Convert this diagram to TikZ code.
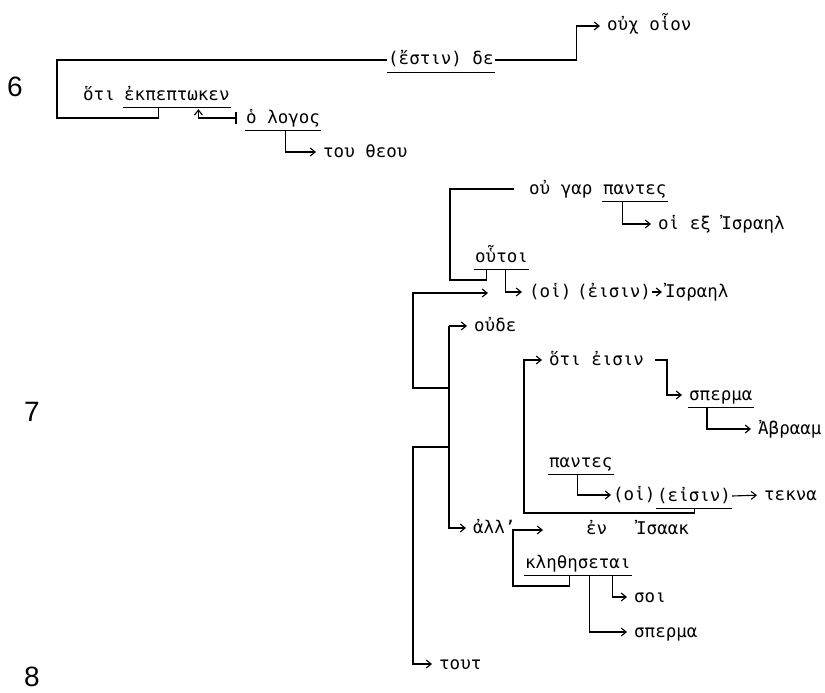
\documentclass[tikz,border=0pt]{standalone}
\usepackage{fontspec}
\setmainfont{DejaVu Sans}
\newfontfamily\grmono{DejaVu Sans Mono}
\newfontfamily\digitfont{Liberation Sans}
\usetikzlibrary{arrows.meta,calc}
\begin{document}
\begin{tikzpicture}[x=1pt,y=-1pt,
  wd/.style={font=\grmono\fontsize{17.5}{20}\selectfont, inner xsep=1pt, inner ysep=0pt, text height=17pt, text depth=7pt, anchor=base west},
  num/.style={font=\digitfont\fontsize{28}{32}\selectfont, inner sep=0pt},
  ln/.style={line width=1.1pt, line join=miter},
  arr/.style={ln, -{Straight Barb[length=5pt,width=8pt]}},
  ar/.style={arr, shorten >=6pt}
]
\useasboundingbox (0,0) rectangle (825,693);
% verse numbers
\node[num] (n6) at (15,87) {6};
\node[num] (n7) at (32,412) {7};
\node[num] (n8) at (32,677) {8};
% ---------- verse 6
\node[wd] (estin) at (387,65) {(ἔστιν) δε};
\node[wd] (ouxoion) at (606,31) {οὐχ οἷον};
\node[wd] (hoti1) at (82,100) {ὅτι};
\node[wd] (ekp) at (123,100) {ἐκπεπτωκεν};
\node[wd] (logos) at (245,123) {ὁ λογος};
\node[wd] (theou) at (322,157) {του θεου};
\draw[ln] (estin.south west) -- (estin.south east);
\draw[ln] (ekp.south west) -- (ekp.south east);
\draw[ln] (logos.south west) -- (logos.south east);
\draw[ar] (estin.east) -- ++(82,0) |- (ouxoion.west);
\draw[ln] (estin.west) -| (57,118) -| ($(ekp.south west)!0.33!(ekp.south east)$);
\coordinate (lt) at ($(logos.west)+(-9,0)$);
\draw[ln] ($(lt)+(0,-6)$) -- ($(lt)+(0,6)$);
\draw[arr, shorten >=2pt] (lt) -| ($(ekp.south west)!0.70!(ekp.south east)$);
\draw[ar] ($(logos.south west)!0.53!(logos.south east)$) |- (theou.west);
% ---------- verse 7
\node[wd] (oug) at (528,194) {οὐ γαρ};
\node[wd] (pantes1) at (602,194) {παντες};
\node[wd] (oiex) at (657,229) {οἱ εξ Ἰσραηλ};
\node[wd] (houtoi) at (474,262) {οὗτοι};
\node[wd] (oi1) at (528,297) {(οἱ)};
\node[wd] (eisin1) at (576,297) {(ἐισιν)};
\node[wd] (israel1) at (664,297) {Ἰσραηλ};
\node[wd] (oude) at (473,331) {οὐδε};
\node[wd] (hoti2) at (548,365) {ὅτι ἐισιν};
\node[wd] (sperma1) at (688,400) {σπερμα};
\node[wd] (abraam) at (757,434) {Ἀβρααμ};
\node[wd] (pantes2) at (548,467) {παντες};
\node[wd] (oi2) at (612,500) {(οἱ)};
\node[wd] (eisin2) at (656,501) {(εἰσιν)};
\node[wd] (tekna) at (763,500) {τεκνα};
\node[wd] (alla) at (472,533) {ἀλλ’};
\node[wd] (en) at (585,534) {ἐν};
\node[wd] (isaak) at (635,534) {Ἰσαακ};
\node[wd] (kl) at (524,568) {κληθησεται};
\node[wd] (soi) at (633,602) {σοι};
\node[wd] (sperma2) at (633,637) {σπερμα};
\node[wd] (tout) at (438,669) {τουτ};
% underlines
\draw[ln] (pantes1.south west) -- (pantes1.south east);
\draw[ln] (houtoi.south west) -- (houtoi.south east);
\draw[ln] (sperma1.south west) -- (sperma1.south east);
\draw[ln] (pantes2.south west) -- (pantes2.south east);
\draw[ln] (eisin2.south west) -- (eisin2.south east);
\draw[ln] (kl.south west) -- (kl.south east);
% connectors
\draw[ln] ($(oug.west)+(-14,0)$) -| (450,280) -| ($(houtoi.south west)!0.22!(houtoi.south east)$);
\draw[ar] ($(pantes1.south west)!0.31!(pantes1.south east)$) |- (oiex.west);
\draw[ar] ($(houtoi.south west)!0.57!(houtoi.south east)$) |- (oi1.west);
\draw[ar, shorten >=2pt] (eisin1.east) -- (israel1.west);
\coordinate (e7) at (488,293);
\draw[arr] (449,388) -- (413,388) |- (e7);
\coordinate (v7) at (449,0);
\draw[ar] (oude.west -| v7) -- (oude.west);
\draw[ar] (oude.west -| v7) |- (alla.west);
\draw[ar] (449,447) -- (413,447) |- (tout.west);
\draw[ar] ($(hoti2.east)+(10,0)$) -| ($(sperma1.west)+(-21,0)$) -- (sperma1.west);
\draw[ar] ($(sperma1.south west)!0.29!(sperma1.south east)$) |- (abraam.west);
\draw[ar, shorten >=1pt] ($(pantes2.south west)!0.45!(pantes2.south east)$) |- (oi2.west);
\draw[ar] (eisin2.east) -- (tekna.west);
\draw[ar] ($(eisin2.south west)!0.5!(eisin2.south east)$) |- (524,513) |- (hoti2.west);
\coordinate (enarr) at (543,530);
\draw[arr] ($(kl.south west)!0.42!(kl.south east)$) |- (513,586) |- (enarr);
\draw[ar] ($(kl.south west)!0.82!(kl.south east)$) |- (soi.west);
\draw[ar] ($(kl.south west)!0.61!(kl.south east)$) |- (sperma2.west);
\end{tikzpicture}
\end{document}
